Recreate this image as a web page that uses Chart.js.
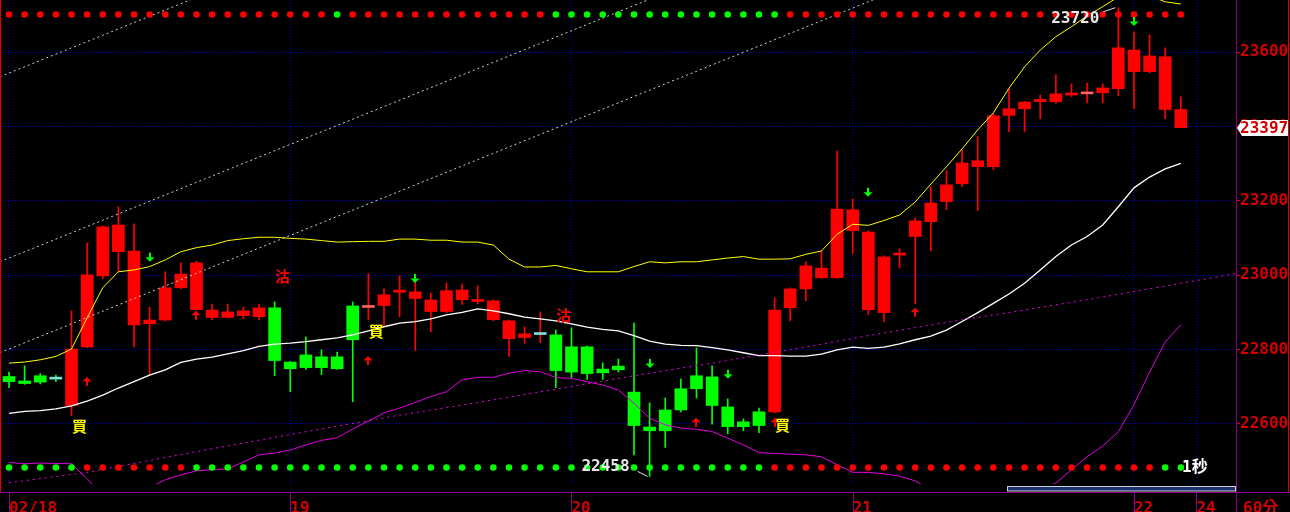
<!DOCTYPE html>
<html>
<head>
<meta charset="utf-8">
<script src="https://cdn.jsdelivr.net/npm/chart.js@4.4.1/dist/chart.umd.min.js"></script>
<style>
html, body { margin: 0; padding: 0; background: #000; }
canvas { display: block; }
</style>
</head>
<body>
<canvas id="chart60" width="1290" height="512"></canvas>
<script>
// 60分K：開 高 低 收
const opens  = [22727, 22715, 22729, 22720, 22649, 22807, 22998, 23063, 22866, 22869,
                22879, 22966, 22907, 22886, 22886, 22891, 22888, 22912, 22766, 22785,
                22780, 22780, 22917, 22913, 22918, 22954, 22937, 22902, 22902, 22934,
                22929, 22880, 22829, 22832, 22840, 22839, 22807, 22807, 22747, 22755,
                22685, 22591, 22637, 22694, 22729, 22726, 22645, 22605, 22632, 22632,
                22912, 22963, 22993, 22993, 23120, 22907, 22899, 23054, 23104, 23144,
                23198, 23246, 23292, 23292, 23430, 23448, 23467, 23467, 23485, 23488,
                23491, 23502, 23548, 23548, 23588, 23446];
const highs  = [22739, 22756, 22735, 22731, 22904, 23087, 23133, 23184, 23138, 22914,
                23009, 23033, 23038, 22922, 22922, 22914, 22922, 22928, 22767, 22834,
                22799, 22793, 22928, 23004, 22963, 22998, 22987, 22952, 22979, 22976,
                22971, 22933, 22879, 22861, 22901, 22852, 22858, 22809, 22764, 22774,
                22871, 22656, 22669, 22720, 22804, 22756, 22667, 22613, 22642, 22939,
                22966, 23036, 23065, 23334, 23205, 23120, 23052, 23071, 23154, 23238,
                23281, 23337, 23373, 23434, 23501, 23468, 23485, 23539, 23515, 23518,
                23515, 23720, 23655, 23647, 23612, 23480];
const lows   = [22697, 22706, 22707, 22713, 22622, 22805, 22990, 23011, 22807, 22731,
                22877, 22963, 22906, 22880, 22885, 22883, 22880, 22729, 22686, 22746,
                22732, 22746, 22659, 22880, 22863, 22888, 22797, 22848, 22899, 22921,
                22923, 22877, 22781, 22816, 22818, 22697, 22724, 22719, 22719, 22739,
                22516, 22458, 22536, 22632, 22669, 22599, 22573, 22581, 22576, 22629,
                22877, 22931, 22991, 22991, 23058, 22894, 22875, 23020, 22923, 23066,
                23176, 23238, 23174, 23284, 23386, 23386, 23421, 23462, 23481, 23464,
                23464, 23483, 23448, 23545, 23421, 23397];
const closes = [22713, 22708, 22712, 22720, 22801, 23001, 23130, 23135, 23065, 22879,
                22966, 23003, 23033, 22906, 22901, 22904, 22912, 22770, 22748, 22751,
                22751, 22748, 22826, 22913, 22947, 22956, 22955, 22933, 22958, 22960,
                22934, 22931, 22877, 22842, 22840, 22743, 22739, 22735, 22737, 22745,
                22595, 22581, 22581, 22637, 22694, 22649, 22592, 22592, 22595, 22906,
                22963, 23025, 23019, 23178, 23176, 23116, 23049, 23057, 23146, 23194,
                23243, 23302, 23308, 23429, 23448, 23466, 23473, 23488, 23488, 23488,
                23504, 23612, 23606, 23590, 23446, 23397];
// K棒顏色：R紅 G綠 C青(平盤) P粉(平盤)
const candleColors = 'GGGCRRRRRRRRRRRRRGGGGGGPRRRRRRRRRRCGGGGGGGGGGGGGGRRRRRRRRRRRRRRRRRRRRPRRRRRR';

// 布林通道
const upperBand = [22763, 22766, 22772, 22781, 22801, 22885, 22966, 23009, 23014, 23023,
                   23041, 23063, 23074, 23081, 23093, 23098, 23102, 23102, 23099, 23097,
                   23093, 23089, 23090, 23091, 23091, 23097, 23097, 23094, 23094, 23089,
                   23089, 23081, 23043, 23022, 23022, 23026, 23017, 23009, 23009, 23009,
                   23023, 23036, 23033, 23036, 23036, 23041, 23046, 23050, 23043, 23043,
                   23044, 23056, 23065, 23110, 23137, 23134, 23147, 23162, 23197, 23245,
                   23292, 23340, 23391, 23437, 23503, 23561, 23606, 23642, 23669, 23698,
                   23723, 23749, 23760, 23752, 23736, 23730];
const midBand   = [22628, 22633, 22635, 22640, 22648, 22661, 22677, 22696, 22713, 22731,
                   22745, 22765, 22774, 22779, 22788, 22797, 22808, 22814, 22817, 22821,
                   22826, 22831, 22839, 22850, 22861, 22871, 22875, 22882, 22893, 22900,
                   22909, 22904, 22896, 22887, 22882, 22877, 22869, 22860, 22854, 22850,
                   22837, 22822, 22814, 22811, 22810, 22805, 22799, 22791, 22783, 22783,
                   22782, 22782, 22787, 22799, 22806, 22803, 22806, 22815, 22826, 22836,
                   22852, 22875, 22899, 22924, 22949, 22978, 23014, 23050, 23081, 23104,
                   23135, 23184, 23235, 23264, 23286, 23301];
const lowerBand = [22496, 22492, 22494, 22493, 22492, 22452, 22405, 22385, 22395, 22428,
                   22449, 22462, 22473, 22476, 22478, 22497, 22516, 22521, 22529, 22543,
                   22555, 22562, 22586, 22607, 22629, 22642, 22657, 22673, 22686, 22718,
                   22725, 22725, 22736, 22743, 22740, 22724, 22722, 22713, 22704, 22691,
                   22655, 22615, 22597, 22588, 22585, 22579, 22561, 22543, 22522, 22520,
                   22518, 22516, 22511, 22489, 22469, 22469, 22465, 22459, 22446, 22422,
                   22400, 22382, 22372, 22370, 22380, 22400, 22420, 22440, 22476, 22511,
                   22540, 22578, 22651, 22739, 22820, 22866];

// 長天期均線（虛線）
const longMaIdx = [0, 5, 10, 15, 20, 25, 30, 35, 40, 45, 50, 55, 60, 65, 70, 75, 78.5];
const longMaVal = [22441, 22469, 22509, 22548, 22586, 22623, 22657, 22693, 22729, 22763,
                   22799, 22837, 22873, 22906, 22941, 22978, 23004];

// 趨勢通道線（起點、終點）
const channelFromIdx = [-0.58, -0.58, -0.58];
const channelFromVal = [23534, 23036, 22791];
const channelToIdx   = [12, 42, 57];
const channelToVal   = [23748, 23760, 23770];

// 上下排訊號燈
const topSignal    = 'RRRRRRRRRRRRRRRRRRRRRGRRRRRRRRRRRRRGGGGGGGGGGGGGGGRRRRRRRRRRRRRRRRRRRRRRRRRR';
const bottomSignal = 'GGGGGRRRRRRRGGGGGGGGGGGGGGGGGGGGGGGGGGGGGGGGGGGGGRRRRRRRRRRRRRRRRRRRRRRRRRGG';

// 箭頭與買沽標記
const upArrowIdx     = [5, 12, 23, 44, 49, 58];
const upArrowPrice   = [22726, 22904, 22782, 22616, 22616, 22912];
const downArrowIdx   = [9, 26, 41, 46, 55, 72];
const downArrowPrice = [23036, 22979, 22750, 22721, 23211, 23671];
const buyIdx    = [4, 23, 49];
const buyPrice  = [22592, 22850, 22597];
const sellIdx   = [17, 35];
const sellPrice = [22996, 22891];

const dayTicks   = [0, 18, 36, 54, 72, 76];
const dayLabels  = ['02/18', '19', '20', '21', '22', '24'];
const priceTicks = [22600, 22800, 23000, 23200, 23400, 23600];

const RED = '#ff0000', GREEN = '#00ff00';
const AXIS_RED = '#d40000', PURPLE = '#8c008c', GRID = '#0000dd';
const MONO = '"DejaVu Sans Mono", monospace';
const CJK = '"Noto Sans CJK TC", "Noto Sans CJK SC", sans-serif';

const palette = { R: RED, G: GREEN, C: '#7fe0e0', P: '#ff6464' };
const idx = opens.map((_, i) => i);
const bodyColors = idx.map(i => palette[candleColors[i]]);
const wickColors = idx.map(i => {
    const c = candleColors[i];
    if (c === 'C') return palette[candleColors[i - 1]];
    if (c === 'P') return RED;
    return palette[c];
});

const TOP_ROW = 14.5, BOTTOM_ROW = 467.5;   // 訊號燈列（像素）

function lineSet(points, color, dash, width) {
    return {
        type: 'line', data: points, borderColor: color, borderWidth: width || 1,
        borderDash: dash || [], pointRadius: 0, tension: 0, order: 1
    };
}

const datasets = [
    {
        type: 'scatter', yAxisID: 'yDot', order: 0,
        data: idx.map(i => ({ x: i, y: TOP_ROW })),
        pointRadius: 3.3, pointBorderWidth: 0,
        pointBackgroundColor: idx.map(i => topSignal[i] === 'G' ? GREEN : RED)
    },
    {
        type: 'scatter', yAxisID: 'yDot', order: 0,
        data: idx.map(i => ({ x: i, y: BOTTOM_ROW })),
        pointRadius: 3.3, pointBorderWidth: 0,
        pointBackgroundColor: idx.map(i => bottomSignal[i] === 'G' ? GREEN : RED)
    },
    ...channelFromIdx.map((_, k) => lineSet(
        [{ x: channelFromIdx[k], y: channelFromVal[k] }, { x: channelToIdx[k], y: channelToVal[k] }],
        '#c8d8c8', [2, 3])),
    lineSet(longMaIdx.map((v, k) => ({ x: v, y: longMaVal[k] })), '#ee00ee', [2, 4]),
    lineSet(idx.map(i => ({ x: i, y: upperBand[i] })), '#ffff00'),
    lineSet(idx.map(i => ({ x: i, y: midBand[i] })), '#ffffff', [], 1.3),
    lineSet(idx.map(i => ({ x: i, y: lowerBand[i] })), '#e000e0'),
    {
        type: 'bar', order: 2, grouped: false, barThickness: 12, minBarLength: 2,
        data: idx.map(i => ({ x: i, y: [opens[i], closes[i]] })),
        backgroundColor: bodyColors, borderWidth: 0
    },
    {
        type: 'bar', order: 3, grouped: false, barThickness: 1,
        data: idx.map(i => ({ x: i, y: [lows[i], highs[i]] })),
        backgroundColor: wickColors, borderWidth: 0
    }
];

function drawArrow(ctx, x, tip, dir, color) {
    // dir = 1 向上（尖端在上），-1 向下
    ctx.fillStyle = color;
    ctx.beginPath();
    ctx.moveTo(x, tip);
    ctx.lineTo(x - 4.5, tip + dir * 4.5);
    ctx.lineTo(x + 4.5, tip + dir * 4.5);
    ctx.closePath();
    ctx.fill();
    if (dir > 0) ctx.fillRect(x - 1, tip + 4, 2, 5);
    else ctx.fillRect(x - 1, tip - 9, 2, 5);
}

const extras = {
    id: 'extras',
    beforeDraw(chart) {
        const ctx = chart.ctx;
        ctx.save();
        ctx.fillStyle = '#000';
        ctx.fillRect(0, 0, chart.width, chart.height);
        ctx.restore();
    },
    afterDatasetsDraw(chart) {
        const ctx = chart.ctx;
        const xs = chart.scales.x, ys = chart.scales.y;
        ctx.save();
        upArrowIdx.forEach((i, k) => drawArrow(ctx, Math.round(xs.getPixelForValue(i)), ys.getPixelForValue(upArrowPrice[k]), 1, RED));
        downArrowIdx.forEach((i, k) => drawArrow(ctx, Math.round(xs.getPixelForValue(i)), ys.getPixelForValue(downArrowPrice[k]), -1, GREEN));

        ctx.font = 'bold 15px ' + CJK;
        ctx.textAlign = 'center';
        ctx.textBaseline = 'middle';
        ctx.fillStyle = '#ffff00';
        buyIdx.forEach((i, k) => ctx.fillText('買', xs.getPixelForValue(i) + 8, ys.getPixelForValue(buyPrice[k])));
        ctx.fillStyle = RED;
        sellIdx.forEach((i, k) => ctx.fillText('沽', xs.getPixelForValue(i) + 8, ys.getPixelForValue(sellPrice[k])));

        // 最高、最低標示
        const hi = Math.max(...highs), lo = Math.min(...lows);
        const hx = xs.getPixelForValue(highs.indexOf(hi)), hy = ys.getPixelForValue(hi);
        const lx = xs.getPixelForValue(lows.indexOf(lo)), ly = ys.getPixelForValue(lo);
        ctx.strokeStyle = '#e0e0e0';
        ctx.lineWidth = 1;
        ctx.beginPath();
        ctx.moveTo(hx - 15, hy + 4); ctx.lineTo(hx - 3, hy);
        ctx.moveTo(lx - 12, ly - 5); ctx.lineTo(lx - 2, ly);
        ctx.stroke();
        ctx.font = 'bold 16px ' + MONO;
        ctx.fillStyle = '#e8e8e8';
        ctx.textAlign = 'right';
        ctx.fillText(String(hi), hx - 19, hy + 11);
        ctx.fillText(String(lo), lx - 20, ly - 10);

        ctx.textAlign = 'left';
        ctx.font = 'bold 16px ' + MONO + ', ' + CJK;
        ctx.fillStyle = '#ffffff';
        ctx.fillText('1秒', 1182, BOTTOM_ROW);
        ctx.restore();
    },
    afterDraw(chart) {
        const ctx = chart.ctx;
        const xs = chart.scales.x, ys = chart.scales.y;
        const area = chart.chartArea;
        ctx.save();
        ctx.lineWidth = 1;

        // 捲軸
        ctx.fillStyle = '#1c2f6e';
        ctx.fillRect(1008, 487, 228, 4);
        ctx.strokeStyle = '#d0d0d0';
        ctx.strokeRect(1007.5, 486.5, 228, 4.5);

        ctx.strokeStyle = PURPLE;
        ctx.beginPath();
        ctx.moveTo(0, 492.5); ctx.lineTo(chart.width, 492.5);
        ctx.moveTo(area.right + 0.5, 0); ctx.lineTo(area.right + 0.5, chart.height);
        dayTicks.forEach(t => {
            const px = Math.round(xs.getPixelForValue(t)) + 0.5;
            ctx.moveTo(px, 492); ctx.lineTo(px, chart.height);
        });
        ctx.stroke();

        ctx.strokeStyle = '#e00000';
        ctx.beginPath();
        ctx.moveTo(0.5, 0); ctx.lineTo(0.5, 492);
        ctx.moveTo(chart.width - 1.5, 0); ctx.lineTo(chart.width - 1.5, 492);
        ctx.stroke();

        ctx.font = 'bold 16px ' + MONO + ', ' + CJK;
        ctx.fillStyle = AXIS_RED;
        ctx.textAlign = 'left';
        ctx.textBaseline = 'alphabetic';
        ctx.fillText('60分', area.right + 7, 513);

        // 最新價
        const last = closes[closes.length - 1];
        const py = Math.round(ys.getPixelForValue(last));
        const bx = area.right + 1;
        ctx.fillStyle = '#ffffff';
        ctx.beginPath();
        ctx.moveTo(bx, py);
        ctx.lineTo(bx + 5, py - 8);
        ctx.lineTo(chart.width - 2, py - 8);
        ctx.lineTo(chart.width - 2, py + 8);
        ctx.lineTo(bx + 5, py + 8);
        ctx.closePath();
        ctx.fill();
        ctx.font = 'bold 16px ' + MONO;
        ctx.fillStyle = AXIS_RED;
        ctx.textBaseline = 'middle';
        ctx.fillText(String(last), bx + 3, py + 1);
        ctx.restore();
    }
};

new Chart(document.getElementById('chart60'), {
    type: 'bar',
    data: { datasets: datasets },
    options: {
        responsive: false,
        animation: false,
        devicePixelRatio: 1,
        layout: { padding: 0, autoPadding: false },
        plugins: { legend: { display: false }, tooltip: { enabled: false } },
        scales: {
            x: {
                type: 'linear',
                offset: false,
                bounds: 'ticks',
                min: -0.576,
                max: 78.53,
                afterBuildTicks: s => { s.ticks = dayTicks.map(v => ({ value: v })); },
                afterFit: s => { s.height = 28; s.paddingLeft = 0; s.paddingRight = 0; },
                grid: { color: GRID, drawTicks: false, offset: false },
                border: { display: false, dash: [1, 2] },
                ticks: {
                    align: 'start', autoSkip: false, maxRotation: 0, padding: 15,
                    color: AXIS_RED,
                    font: { family: MONO, size: 16, weight: 'bold' },
                    callback: v => dayLabels[dayTicks.indexOf(v)]
                }
            },
            y: {
                position: 'right',
                min: 22437.6,
                max: 23740.8,
                afterBuildTicks: s => { s.ticks = priceTicks.map(v => ({ value: v })); },
                afterFit: s => { s.width = 54; s.paddingTop = 0; s.paddingBottom = 0; },
                grid: { color: GRID, drawTicks: true, tickLength: 4, tickColor: AXIS_RED },
                border: { display: false, dash: [1, 2] },
                ticks: {
                    padding: 0, color: AXIS_RED,
                    font: { family: MONO, size: 16, weight: 'bold' },
                    callback: v => String(v)
                }
            },
            yDot: { display: false, min: 0, max: 484, reverse: true }
        }
    },
    plugins: [extras]
});
</script>
</body>
</html>
